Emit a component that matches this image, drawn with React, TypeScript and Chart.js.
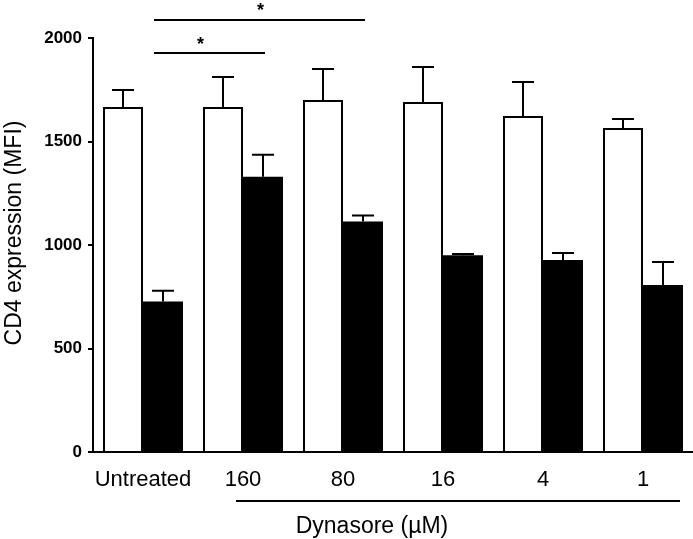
import React, { useEffect, useRef } from "react";
import { Chart, registerables } from "chart.js";

Chart.register(...registerables);

const categories = ["Untreated", "160", "80", "16", "4", "1"];
const untreatedOrControl = [1667, 1667, 1700, 1691, 1623, 1565];
const controlErr = [82, 145, 150, 169, 164, 44];
const treated = [727, 1330, 1113, 950, 928, 807];
const treatedErr = [52, 106, 30, 6, 33, 111];
const yTicks = [0, 500, 1000, 1500, 2000];
const yTitle = "CD4 expression (MFI)";
const groupLabel = "Dynasore (µM)";
const FONT = "'Liberation Sans', Arial, sans-serif";

const overlayPlugin = {
  id: "overlay",
  afterDatasetsDraw(chart: any) {
    const ctx = chart.ctx;
    const x = chart.scales.x;
    const y = chart.scales.y;
    ctx.save();
    ctx.strokeStyle = "#000";
    ctx.fillStyle = "#000";
    ctx.lineWidth = 2;
    ctx.lineCap = "butt";
    // error bars
    const errs = [controlErr, treatedErr];
    [untreatedOrControl, treated].forEach((vals, di) => {
      const meta = chart.getDatasetMeta(di);
      meta.data.forEach((bar: any, j: number) => {
        const top = y.getPixelForValue(vals[j] + errs[di][j]);
        const base = y.getPixelForValue(vals[j]);
        ctx.beginPath();
        ctx.moveTo(bar.x, base);
        ctx.lineTo(bar.x, top);
        ctx.moveTo(bar.x - 11, top);
        ctx.lineTo(bar.x + 11, top);
        ctx.stroke();
      });
    });
    // significance lines
    const x0 = x.getPixelForValue(0) + 11;
    const x1 = x.getPixelForValue(1) + 22;
    const x2 = x.getPixelForValue(2) + 22;
    const yl = y.getPixelForValue(1928);
    const yu = y.getPixelForValue(2087);
    ctx.beginPath();
    ctx.moveTo(x0, yl);
    ctx.lineTo(x1, yl);
    ctx.moveTo(x0, yu);
    ctx.lineTo(x2, yu);
    ctx.stroke();
    ctx.font = "bold 18px " + FONT;
    ctx.textAlign = "center";
    ctx.textBaseline = "alphabetic";
    ctx.fillText("*", (x0 + x1) / 2 - 9, yl - 3);
    ctx.fillText("*", (x0 + x2) / 2 + 1, yu - 4);
    // group line + label
    const gy = chart.chartArea.bottom + 49;
    ctx.beginPath();
    ctx.moveTo(x.getPixelForValue(1) - 7, gy);
    ctx.lineTo(x.getPixelForValue(5) + 37, gy);
    ctx.stroke();
    ctx.font = "23px " + FONT;
    ctx.fillText(groupLabel, (x.getPixelForValue(1) + x.getPixelForValue(5)) / 2 - 71, gy + 32);
    // y title
    ctx.save();
    ctx.translate(21, (chart.chartArea.top + chart.chartArea.bottom) / 2 - 12);
    ctx.rotate(-Math.PI / 2);
    ctx.font = "23px " + FONT;
    ctx.textAlign = "center";
    ctx.fillText(yTitle, 0, 0);
    ctx.restore();
    ctx.restore();
  },
};

export default function App() {
  const ref = useRef<HTMLCanvasElement | null>(null);
  useEffect(() => {
    if (!ref.current) return;
    const chart = new Chart(ref.current, {
      type: "bar",
      data: {
        labels: categories,
        datasets: [
          {
            label: "Control",
            data: untreatedOrControl,
            backgroundColor: "#ffffff",
            borderColor: "#000000",
            borderWidth: 2,
            barPercentage: 1,
            categoryPercentage: 0.8,
          },
          {
            label: "Treated",
            data: treated,
            backgroundColor: "#000000",
            borderColor: "#000000",
            borderWidth: 0,
            barPercentage: 1,
            categoryPercentage: 0.8,
          },
        ],
      },
      options: {
        responsive: false,
        animation: false,
        devicePixelRatio: 1,
        layout: { padding: { top: 38, right: 0, left: 0, bottom: 0 } },
        plugins: { legend: { display: false }, tooltip: { enabled: false } },
        scales: {
          x: {
            grid: { display: false },
            border: { display: true, color: "#000", width: 2 },
            ticks: {
              color: "#000",
              font: { family: FONT, size: 22 },
              padding: 7,
              autoSkip: false,
              maxRotation: 0,
            },
            afterFit: (s: any) => {
              s.height = 87;
            },
          },
          y: {
            min: 0,
            max: 2000,
            afterBuildTicks: (s: any) => {
              s.ticks = yTicks.map((v) => ({ value: v }));
            },
            grid: {
              display: true,
              drawOnChartArea: false,
              drawTicks: true,
              tickLength: 5,
              lineWidth: 2,
              color: "#000",
            },
            border: { display: true, color: "#000", width: 2 },
            ticks: {
              color: "#000",
              font: { family: FONT, size: 17, weight: "bold" },
              padding: 6,
              callback: (v: any) => String(v),
            },
            afterFit: (s: any) => {
              s.width = 93;
            },
          },
        },
      },
      plugins: [overlayPlugin],
    } as any);
    return () => chart.destroy();
  }, []);
  return (
    <div style={{ position: "fixed", left: 0, top: 0, width: 693, height: 539, background: "#fff" }}>
      <canvas ref={ref} width={693} height={539} style={{ width: 693, height: 539 }} />
    </div>
  );
}
